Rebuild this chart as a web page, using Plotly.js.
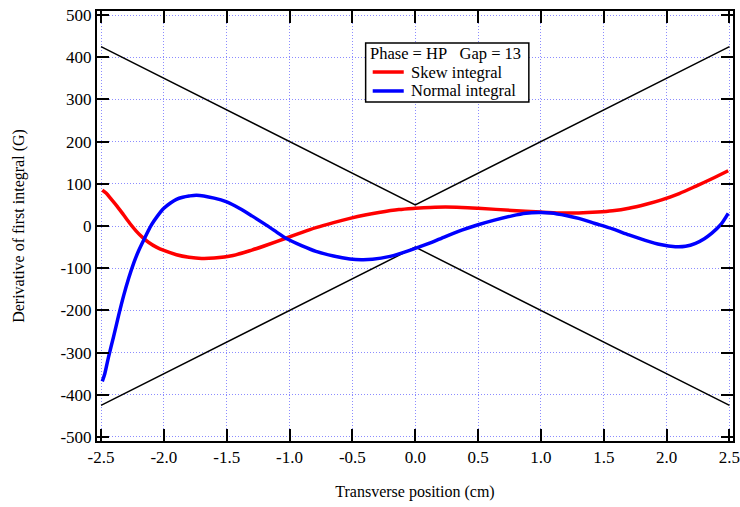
<!DOCTYPE html>
<html>
<head>
<meta charset="utf-8">
<script src="https://cdn.plot.ly/plotly-3.0.1.min.js"></script>
<style>html,body{margin:0;padding:0;background:#fff;}#chart{width:740px;height:507px;}</style>
</head>
<body>
<div id="chart"></div>
<script>
// Skew integral (red)
const skewX = [-2.49, -2.46, -2.42, -2.37, -2.32, -2.27, -2.22, -2.17, -2.12, -2.06, -2.0, -1.9, -1.8, -1.7, -1.6, -1.45, -1.3, -1.18, -1.03, -0.9, -0.79, -0.65, -0.52, -0.4, -0.29, -0.13, 0, 0.12, 0.24, 0.37, 0.5, 0.77, 1.0, 1.15, 1.3, 1.45, 1.57, 1.7, 1.83, 1.96, 2.1, 2.23, 2.36, 2.49];
const skewY = [85, 78, 64, 46, 26, 6, -12, -27, -39, -50, -58, -68, -74, -77, -76, -70, -57, -45, -29, -15, -4, 8, 18, 26, 32, 39, 42, 44, 45, 44, 42, 37, 33, 31, 31, 33, 36, 42, 51, 62, 77, 94, 112, 131];
// Normal integral (blue)
const normX = [-2.49, -2.47, -2.44, -2.40, -2.36, -2.32, -2.28, -2.24, -2.20, -2.16, -2.10, -2.05, -2.0, -1.95, -1.9, -1.85, -1.8, -1.74, -1.6, -1.5, -1.4, -1.3, -1.2, -1.1, -1.03, -0.9, -0.79, -0.65, -0.52, -0.43, -0.34, -0.2, -0.13, 0, 0.12, 0.24, 0.37, 0.5, 0.63, 0.77, 0.88, 0.98, 1.08, 1.2, 1.3, 1.43, 1.57, 1.7, 1.83, 1.95, 2.07, 2.15, 2.23, 2.3, 2.36, 2.43, 2.49];
const normY = [-368, -350, -310, -262, -212, -165, -124, -88, -58, -33, 2, 24, 42, 54, 63, 68, 71, 73, 66, 57, 42, 24, 5, -15, -29, -47, -60, -71, -78, -80, -79, -72, -66, -53, -40, -25, -10, 3, 14, 24, 30, 32, 31, 25, 18, 6, -7, -21, -34, -44, -49, -48, -41, -30, -17, 3, 30];
// Black envelope lines
const upperX = [-2.5, 0, 2.5];
const upperY = [425, 50, 425];
const lowerX = [-2.5, 0, 2.5];
const lowerY = [-425, -50, -425];
// Tick labels
const xTickVals = [-2.5, -2.0, -1.5, -1.0, -0.5, 0.0, 0.5, 1.0, 1.5, 2.0, 2.5];
const xTickText = ["-2.5", "-2.0", "-1.5", "-1.0", "-0.5", "0.0", "0.5", "1.0", "1.5", "2.0", "2.5"];
const yTickVals = [-500, -400, -300, -200, -100, 0, 100, 200, 300, 400, 500];
const yTickText = ["-500", "-400", "-300", "-200", "-100", "0", "100", "200", "300", "400", "500"];
// Legend texts
const legendTitle = 'Phase = HP\u00a0\u00a0\u00a0Gap = 13';
const seriesNames = ['Skew integral', 'Normal integral'];
const seriesColors = ['#ff0000', '#0000ff'];

const serif = "Liberation Serif, Times New Roman, serif";

const traces = [
  {x: upperX, y: upperY, mode: 'lines', line: {color: 'black', width: 1.5}, showlegend: false, hoverinfo: 'skip'},
  {x: lowerX, y: lowerY, mode: 'lines', line: {color: 'black', width: 1.5}, showlegend: false, hoverinfo: 'skip'},
  {x: skewX, y: skewY, mode: 'lines', name: seriesNames[0], showlegend: false, line: {color: seriesColors[0], width: 3.5, shape: 'spline', smoothing: 0.8}},
  {x: normX, y: normY, mode: 'lines', name: seriesNames[1], showlegend: false, line: {color: seriesColors[1], width: 3.5, shape: 'spline', smoothing: 0.8}}
];

const axisCommon = {
  showline: true, linecolor: 'black', linewidth: 2, mirror: 'allticks',
  ticks: 'inside', ticklen: 12, tickwidth: 2, tickcolor: 'black',
  showgrid: true, gridcolor: '#8c8cff', gridwidth: 1, griddash: '1px,2px',
  zeroline: false, tickfont: {family: serif, size: 17, color: 'black'},
  tickmode: 'array', ticklabeloverflow: 'allow'
};

// Legend box (paper coordinates)
const lgX0 = 0.4224, lgX1 = 0.6790, lgY0 = 0.7884, lgY1 = 0.9256;
const lgRowY = [0.8581, 0.8140];
const shapes = [
  {type: 'rect', xref: 'paper', yref: 'paper', x0: lgX0, x1: lgX1, y0: lgY0, y1: lgY1,
   fillcolor: 'white', line: {color: 'black', width: 1.5}, layer: 'above'}
];
const annotations = [
  {xref: 'paper', yref: 'paper', x: 0.4258, y: 0.9023, xanchor: 'left', yanchor: 'middle',
   text: legendTitle, showarrow: false, font: {family: serif, size: 16.5, color: 'black'}}
];
seriesNames.forEach((name, i) => {
  shapes.push({type: 'line', xref: 'paper', yref: 'paper', x0: 0.4335, x1: 0.4823, y0: lgRowY[i], y1: lgRowY[i],
    line: {color: seriesColors[i], width: 3.5}, layer: 'above'});
  annotations.push({xref: 'paper', yref: 'paper', x: 0.4900, y: lgRowY[i], xanchor: 'left', yanchor: 'middle',
    text: name, showarrow: false, font: {family: serif, size: 16.5, color: 'black'}});
});

const layout = {
  width: 740, height: 507,
  margin: {l: 97, r: 7, t: 11, b: 66},
  paper_bgcolor: 'white', plot_bgcolor: 'white',
  font: {family: serif, color: 'black'},
  xaxis: Object.assign({}, axisCommon, {
    range: [-2.532, 2.528], tickvals: xTickVals, ticktext: xTickText,
    title: {text: 'Transverse position (cm)', font: {family: serif, size: 16, color: 'black'}, standoff: 19}
  }),
  yaxis: Object.assign({}, axisCommon, {
    range: [-509.5, 509.5], tickvals: yTickVals, ticktext: yTickText,
    title: {text: 'Derivative of first integral (G)', font: {family: serif, size: 16, color: 'black'}, standoff: 32}
  }),
  shapes: shapes,
  annotations: annotations,
  showlegend: false
};

Plotly.newPlot('chart', traces, layout, {staticPlot: true, displayModeBar: false});
</script>
</body>
</html>
